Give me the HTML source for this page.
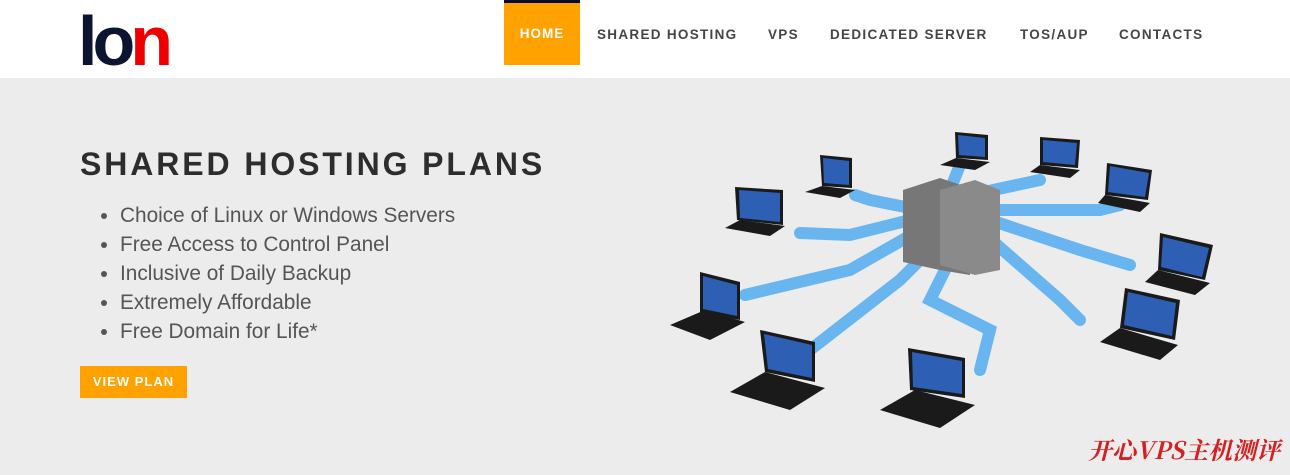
<!DOCTYPE html>
<html><head><meta charset="utf-8"><style>
body{margin:0;width:1290px;height:475px;background:#ececec;font-family:"Liberation Sans",Arial,sans-serif;overflow:hidden;position:relative}
.hdr{position:absolute;left:0;top:0;width:1290px;height:78px;background:#fff}
.logo{position:absolute;left:78px;top:6px;font-size:70px;font-weight:bold;letter-spacing:-5px;line-height:70px}
.nav{position:absolute;top:27px;font-size:13.5px;font-weight:bold;letter-spacing:1.3px;color:#444}
.home{position:absolute;left:504px;top:0;width:76px;height:65px;background:#ffa200;border-top:3px solid #0a0a2a;box-sizing:border-box;color:#fff;font-size:13.5px;font-weight:bold;letter-spacing:1px;text-align:center;line-height:62px}
h1{position:absolute;left:80px;top:146px;margin:0;font-size:32px;letter-spacing:2.9px;color:#2d2d2d;font-weight:bold}
ul{position:absolute;left:100px;top:201px;margin:0;padding:0 0 0 20px;font-size:20.8px;color:#555;line-height:29px}
.btn{position:absolute;left:80px;top:366px;width:107px;height:32px;background:#ffa200;color:#fff;font-size:13px;font-weight:bold;letter-spacing:1px;text-align:center;line-height:32px}
.wm{position:absolute;left:1088px;top:431px;color:#d42020;font-size:24px;font-style:italic;font-family:"Noto Serif CJK SC",serif;font-weight:bold}
</style></head><body>
<div class="hdr">
<div class="logo"><span style="color:#0b1430">lo</span><span style="color:#e00">n</span></div>
<div class="home">HOME</div>
<div class="nav" style="left:597px">SHARED HOSTING</div>
<div class="nav" style="left:768px">VPS</div>
<div class="nav" style="left:830px">DEDICATED SERVER</div>
<div class="nav" style="left:1020px">TOS/AUP</div>
<div class="nav" style="left:1119px">CONTACTS</div>
</div>
<h1>SHARED HOSTING PLANS</h1>
<ul><li>Choice of Linux or Windows Servers</li><li>Free Access to Control Panel</li><li>Inclusive of Daily Backup</li><li>Extremely Affordable</li><li>Free Domain for Life*</li></ul>
<div class="btn">VIEW PLAN</div>
<svg style="position:absolute;left:0;top:0" width="1290" height="475">
<g stroke="#5ab0f0" stroke-width="12" fill="none" stroke-linecap="round" opacity="0.9">
<path d="M940 240 L900 280 L810 350"/><path d="M920 230 L850 270 L745 295"/>
<path d="M910 220 L850 235 L800 233"/><path d="M920 210 L870 200 L855 195"/>
<path d="M960 240 L930 300 L990 330 L980 370"/><path d="M980 230 L1060 300 L1080 320"/>
<path d="M990 220 L1080 250 L1130 265"/><path d="M990 210 L1100 210 L1120 205"/>
<path d="M970 195 L1040 180"/><path d="M950 190 L960 165"/>
</g>
<g fill="#777"><polygon points="903,190 940,178 940,270 903,262"/><polygon points="940,178 970,188 970,275 940,270"/>
<polygon points="940,190 975,180 1000,190 1000,270 975,275 940,265" fill="#8a8a8a"/></g>
<g fill="#1a1a1a">
<polygon points="700,272 740,282 740,320 700,312"/><polygon points="670,325 705,310 745,322 710,340"/>
<polygon points="760,330 815,342 815,382 765,372"/><polygon points="730,392 765,372 825,388 790,410"/>
<polygon points="908,348 965,358 965,398 910,390"/><polygon points="880,410 915,390 975,405 940,428"/>
<polygon points="735,187 783,190 783,225 737,220"/><polygon points="725,228 740,220 785,226 770,236"/>
<polygon points="820,155 852,158 852,188 822,186"/><polygon points="805,192 822,186 855,190 840,198"/>
<polygon points="955,132 988,135 988,160 956,158"/><polygon points="940,165 956,158 990,162 975,170"/>
<polygon points="1040,137 1080,140 1078,168 1040,165"/><polygon points="1030,172 1040,165 1080,170 1070,178"/>
<polygon points="1107,163 1152,170 1148,200 1105,195"/><polygon points="1098,203 1105,195 1150,203 1140,212"/>
<polygon points="1160,233 1213,245 1205,280 1158,270"/><polygon points="1145,282 1158,270 1210,283 1195,295"/>
<polygon points="1125,288 1180,300 1175,340 1120,328"/><polygon points="1100,342 1120,328 1178,345 1160,360"/>
</g>
<g fill="#2d5fb5">
<polygon points="703,276 737,285 737,316 703,309"/><polygon points="764,334 812,345 812,378 768,369"/>
<polygon points="912,352 962,361 962,394 913,387"/><polygon points="739,190 780,193 780,222 740,218"/>
<polygon points="823,158 849,161 849,185 824,183"/><polygon points="958,135 985,138 985,157 959,155"/>
<polygon points="1043,140 1077,143 1075,165 1043,162"/><polygon points="1110,166 1149,173 1145,197 1108,192"/>
<polygon points="1163,237 1209,248 1202,277 1161,267"/><polygon points="1128,292 1176,303 1172,336 1124,325"/>
</g>
</svg>
<div class="wm">开心VPS主机测评</div>
</body></html>
